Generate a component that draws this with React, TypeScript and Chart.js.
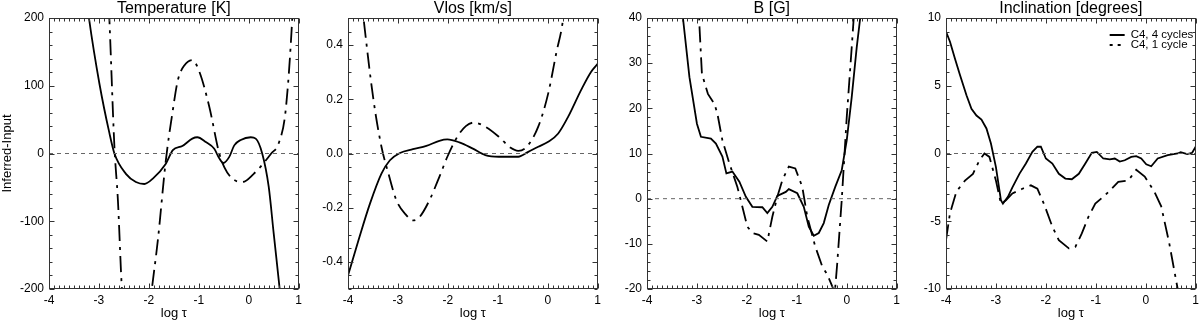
import React, { useEffect, useRef } from "react";
import { Chart, registerables } from "chart.js";

Chart.register(...registerables);

const FONT = "'Liberation Sans', Arial, Helvetica, sans-serif";

// ---- Text ----
const panelTitles = ["Temperature [K]", "Vlos [km/s]", "B [G]", "Inclination [degrees]"];
const yAxisLabel = "Inferred-Input";
const xAxisLabel = "log \u03C4";
const legendLabels = ["C4, 4 cycles", "C4, 1 cycle"];

// ---- Tick labels ----
const xTicks = [-4, -3, -2, -1, 0, 1];
const tempTicks = [-200, -100, 0, 100, 200];
const vlosTicks = [-0.4, -0.2, 0.0, 0.2, 0.4];
const bTicks = [-20, -10, 0, 10, 20, 30, 40];
const inclTicks = [-10, -5, 0, 5, 10];

// ---- Temperature [K] ----
const tempSolidX = [-3.35, -3.2, -2.99, -2.79, -2.69, -2.46, -2.26, -2.09, -1.92, -1.66, -1.52, -1.33, -1.13, -1.03, -0.86, -0.69, -0.59, -0.51, -0.39, -0.29, -0.16, 0.04, 0.14, 0.27, 0.4, 0.5, 0.62, 0.72];
const tempSolidY = [290, 200, 103, 30, 0, -30, -42, -45, -37, -15, 5, 11, 22, 24, 17, 7, -7, -14, -5, 12, 20, 24, 22, 0, -49, -118, -200, -270];
const tempDashX = [-2.83, -2.79, -2.69, -2.62, -2.54, -2.4, -2.25, -2.08, -1.94, -1.82, -1.66, -1.52, -1.42, -1.29, -1.13, -0.99, -0.79, -0.59, -0.49, -0.33, -0.12, 0.1, 0.3, 0.45, 0.6, 0.74, 0.87, 0.92];
const tempDashY = [260, 197, 10, -69, -200, -300, -330, -290, -200, -128, -10, 64, 108, 130, 138, 121, 69, 0, -20, -37, -42, -30, -14, 0, 15, 64, 197, 280];

// ---- Vlos [km/s] ----
const vlosSolidX = [-4, -3.79, -3.56, -3.33, -3.16, -2.96, -2.7, -2.43, -2.17, -2.01, -1.77, -1.51, -1.25, -0.98, -0.59, -0.39, -0.19, 0.01, 0.21, 0.41, 0.67, 0.87, 1.0];
const vlosSolidY = [-0.45, -0.32, -0.185, -0.074, -0.025, 0.002, 0.016, 0.028, 0.047, 0.052, 0.041, 0.019, -0.006, -0.012, -0.012, 0.006, 0.025, 0.043, 0.074, 0.136, 0.235, 0.302, 0.331];
const vlosDashX = [-3.75, -3.69, -3.49, -3.33, -3.19, -3.03, -2.83, -2.7, -2.57, -2.37, -2.17, -2.01, -1.81, -1.64, -1.48, -1.25, -0.98, -0.75, -0.59, -0.42, -0.19, 0.01, 0.17, 0.31, 0.36];
const vlosDashY = [0.6, 0.5, 0.198, 0.025, -0.074, -0.173, -0.228, -0.247, -0.235, -0.173, -0.086, -0.012, 0.062, 0.101, 0.114, 0.099, 0.062, 0.022, 0.01, 0.025, 0.099, 0.222, 0.37, 0.5, 0.6];

// ---- B [G] ----
const bSolidX = [-3.33, -3.28, -3.15, -3.0, -2.92, -2.72, -2.62, -2.49, -2.41, -2.29, -2.15, -2.02, -1.89, -1.69, -1.59, -1.49, -1.39, -1.22, -1.16, -0.99, -0.86, -0.76, -0.66, -0.56, -0.46, -0.36, -0.23, -0.1, 0.0, 0.1, 0.2, 0.27, 0.33];
const bSolidY = [50, 40, 26.9, 16.6, 13.7, 13.3, 12.2, 9.3, 5.6, 6.0, 3.75, 0.4, -1.8, -1.9, -3.2, -1.8, 0.6, 1.5, 2.1, 1.2, -1.8, -6.2, -8.2, -7.6, -5.4, -1.4, 2.6, 6.3, 12.9, 22.5, 33.5, 40, 48];
const bDashX = [-2.97, -2.95, -2.9, -2.78, -2.65, -2.59, -2.49, -2.35, -2.19, -2.09, -1.99, -1.89, -1.76, -1.59, -1.49, -1.39, -1.29, -1.16, -1.03, -0.89, -0.79, -0.63, -0.49, -0.39, -0.29, -0.24, -0.19, -0.1, 0.0, 0.1, 0.14, 0.17];
const bDashY = [45, 38.3, 27.6, 23.2, 21.0, 18.8, 12.9, 7.8, 2.6, -1.8, -6.2, -7.6, -8.0, -9.5, -4.0, 0.4, 4.1, 7.1, 6.7, 2.6, -4.0, -10.6, -15, -16.8, -19.4, -21, -14.3, -0.3, 18, 33.5, 40, 48];

// ---- Inclination [degrees] ----
const inclSolidX = [-4, -3.92, -3.82, -3.72, -3.59, -3.49, -3.39, -3.29, -3.19, -3.1, -3.0, -2.9, -2.86, -2.76, -2.67, -2.53, -2.4, -2.27, -2.17, -2.1, -2.0, -1.87, -1.74, -1.61, -1.48, -1.34, -1.21, -1.08, -0.98, -0.85, -0.72, -0.62, -0.52, -0.42, -0.29, -0.19, -0.09, 0.01, 0.11, 0.24, 0.44, 0.64, 0.7, 0.83, 0.93, 1.0];
const inclSolidY = [9.0, 8.25, 7.0, 5.8, 4.3, 3.3, 2.8, 2.5, 1.85, 0.74, -1.0, -3.45, -3.7, -3.2, -2.5, -1.5, -0.74, 0.12, 0.5, 0.5, -0.37, -0.74, -1.5, -1.85, -1.9, -1.5, -0.74, 0.05, 0.12, -0.37, -0.44, -0.37, -0.6, -0.5, -0.25, -0.2, -0.37, -0.8, -0.94, -0.37, -0.12, 0.0, 0.1, -0.05, 0.05, 0.5];
const inclDashX = [-4, -3.92, -3.79, -3.62, -3.46, -3.33, -3.23, -3.13, -3.0, -2.9, -2.8, -2.67, -2.47, -2.3, -2.17, -2.04, -1.87, -1.74, -1.54, -1.41, -1.28, -1.15, -1.01, -0.82, -0.55, -0.35, -0.19, -0.02, 0.17, 0.31, 0.47, 0.64, 0.7];
const inclDashY = [-6.4, -4.4, -2.8, -2.0, -1.5, -0.5, 0.0, -0.25, -2.0, -3.7, -3.45, -2.95, -2.6, -2.35, -2.6, -3.7, -5.4, -6.4, -7.0, -6.9, -5.9, -4.7, -3.7, -3.1, -2.1, -2.0, -1.2, -1.7, -2.8, -3.9, -6.6, -10, -12];

// ---- Panel configuration (layout/style only) ----
const PLOT_W = 251;
const Y_AXIS_W = 49;
const CANVAS_W = 306;
const CANVAS_H = 322;
const PLOT_TOP = 18;
const X_AXIS_H = 33;

type PanelCfg = {
  title: string;
  yTicks: number[];
  yMin: number;
  yMax: number;
  yMinor: number;
  decimals: number;
  solidX: number[];
  solidY: number[];
  dashX: number[];
  dashY: number[];
  smooth: boolean;
  showYLabel: boolean;
  showLegend: boolean;
};

const panels: PanelCfg[] = [
  { title: panelTitles[0], yTicks: tempTicks, yMin: -200, yMax: 200, yMinor: 20, decimals: 0, solidX: tempSolidX, solidY: tempSolidY, dashX: tempDashX, dashY: tempDashY, smooth: true, showYLabel: true, showLegend: false },
  { title: panelTitles[1], yTicks: vlosTicks, yMin: -0.5, yMax: 0.5, yMinor: 0.05, decimals: 1, solidX: vlosSolidX, solidY: vlosSolidY, dashX: vlosDashX, dashY: vlosDashY, smooth: true, showYLabel: false, showLegend: false },
  { title: panelTitles[2], yTicks: bTicks, yMin: -20, yMax: 40, yMinor: 2, decimals: 0, solidX: bSolidX, solidY: bSolidY, dashX: bDashX, dashY: bDashY, smooth: false, showYLabel: false, showLegend: false },
  { title: panelTitles[3], yTicks: inclTicks, yMin: -10, yMax: 10, yMinor: 1, decimals: 0, solidX: inclSolidX, solidY: inclSolidY, dashX: inclDashX, dashY: inclDashY, smooth: false, showYLabel: false, showLegend: true },
];

const DASH_DOT = [16, 6, 3, 6];

function toPoints(xs: number[], ys: number[]) {
  return xs.map((x, i) => ({ x, y: ys[i] }));
}

function makeDecorPlugin(cfg: PanelCfg, idx: number) {
  return {
    id: "decor" + idx,
    afterDatasetsDraw(chart: any) {
      const { ctx, chartArea: a, scales } = chart;
      const xs = scales.x;
      const ys = scales.y;
      ctx.save();
      ctx.strokeStyle = "#333";
      ctx.lineWidth = 1;
      ctx.setLineDash([]);
      ctx.strokeRect(Math.round(a.left) + 0.5, Math.round(a.top) + 0.5, Math.round(a.right - a.left) - 1, Math.round(a.bottom - a.top) - 1);

      const majorLen = 5;
      const minorLen = 3;
      const L = Math.round(a.left) + 0.5;
      const R = Math.round(a.right) - 0.5;
      const T = Math.round(a.top) + 0.5;
      const B = Math.round(a.bottom) - 0.5;
      ctx.beginPath();
      for (let k = -40; k <= 10; k++) {
        const v = k / 10;
        const len = k % 10 === 0 ? majorLen : minorLen;
        const px = Math.round(xs.getPixelForValue(v)) + 0.5;
        ctx.moveTo(px, B);
        ctx.lineTo(px, B - len);
        ctx.moveTo(px, T);
        ctx.lineTo(px, T + len);
      }
      const n = Math.round((cfg.yMax - cfg.yMin) / cfg.yMinor);
      for (let k = 0; k <= n; k++) {
        const v = cfg.yMin + k * cfg.yMinor;
        const isMajor = cfg.yTicks.some((t) => Math.abs(t - v) < cfg.yMinor / 10);
        const len = isMajor ? majorLen : minorLen;
        const py = Math.round(ys.getPixelForValue(v)) + 0.5;
        ctx.moveTo(L, py);
        ctx.lineTo(L + len, py);
        ctx.moveTo(R, py);
        ctx.lineTo(R - len, py);
      }
      ctx.stroke();

      ctx.fillStyle = "#000";
      ctx.font = "16px " + FONT;
      ctx.textAlign = "center";
      ctx.textBaseline = "alphabetic";
      ctx.fillText(cfg.title, (a.left + a.right) / 2, 13);

      if (cfg.showLegend) {
        const lx = a.right - 86;
        const y1 = 35;
        const y2 = 45;
        ctx.strokeStyle = "#000";
        ctx.lineWidth = 2;
        ctx.beginPath();
        ctx.moveTo(lx, y1);
        ctx.lineTo(lx + 15, y1);
        ctx.stroke();
        ctx.setLineDash([3, 5]);
        ctx.beginPath();
        ctx.moveTo(lx, y2);
        ctx.lineTo(lx + 15, y2);
        ctx.stroke();
        ctx.setLineDash([]);
        ctx.font = "11.5px " + FONT;
        ctx.textAlign = "left";
        ctx.textBaseline = "middle";
        ctx.fillText(legendLabels[0], lx + 21, y1);
        ctx.fillText(legendLabels[1], lx + 21, y2);
      }
      ctx.restore();
    },
  };
}

function Panel({ cfg, idx }: { cfg: PanelCfg; idx: number }) {
  const ref = useRef<HTMLCanvasElement>(null);
  useEffect(() => {
    if (!ref.current) return;
    const lineBase = cfg.smooth
      ? { cubicInterpolationMode: "monotone" as const }
      : { tension: 0 };
    const chart = new Chart(ref.current, {
      type: "line",
      data: {
        datasets: [
          {
            data: [{ x: -4, y: 0 }, { x: 1, y: 0 }],
            borderColor: "#666",
            borderWidth: 1,
            borderDash: [4, 4],
            pointRadius: 0,
            tension: 0,
          },
          {
            data: toPoints(cfg.dashX, cfg.dashY),
            borderColor: "#000",
            borderWidth: 1.8,
            borderDash: DASH_DOT,
            pointRadius: 0,
            ...lineBase,
          },
          {
            data: toPoints(cfg.solidX, cfg.solidY),
            borderColor: "#000",
            borderWidth: 1.8,
            pointRadius: 0,
            ...lineBase,
          },
        ],
      },
      options: {
        animation: false,
        responsive: false,
        maintainAspectRatio: false,
        devicePixelRatio: 1,
        layout: { padding: { top: PLOT_TOP, right: CANVAS_W - Y_AXIS_W - PLOT_W, left: 0, bottom: 0 } },
        plugins: { legend: { display: false }, tooltip: { enabled: false }, title: { display: false } },
        events: [],
        scales: {
          x: {
            type: "linear",
            position: "bottom",
            min: -4,
            max: 1,
            grid: { display: false, drawTicks: false },
            border: { display: false },
            afterBuildTicks: (scale: any) => {
              scale.ticks = xTicks.map((v) => ({ value: v }));
            },
            afterFit: (scale: any) => {
              scale.height = X_AXIS_H;
            },
            ticks: {
              autoSkip: false,
              maxRotation: 0,
              padding: 4,
              color: "#000",
              font: { family: FONT, size: 12 },
              callback: (v: any) => String(v),
            },
            title: {
              display: true,
              text: xAxisLabel,
              color: "#000",
              font: { family: FONT, size: 13 },
              padding: { top: 0, bottom: 1 },
            },
          },
          y: {
            type: "linear",
            position: "left",
            min: cfg.yMin,
            max: cfg.yMax,
            grid: { display: false, drawTicks: false },
            border: { display: false },
            afterBuildTicks: (scale: any) => {
              scale.ticks = cfg.yTicks.map((v) => ({ value: v }));
            },
            afterFit: (scale: any) => {
              scale.width = Y_AXIS_W;
            },
            ticks: {
              autoSkip: false,
              padding: 5,
              color: "#000",
              font: { family: FONT, size: 12 },
              callback: (v: any) => Number(v).toFixed(cfg.decimals),
            },
            title: {
              display: cfg.showYLabel,
              text: yAxisLabel,
              color: "#000",
              font: { family: FONT, size: 13 },
              padding: { top: 0, bottom: 0 },
            },
          },
        },
      },
      plugins: [makeDecorPlugin(cfg, idx)],
    } as any);
    return () => chart.destroy();
  }, [cfg, idx]);

  const left = 49 + 299 * idx - Y_AXIS_W;
  return (
    <canvas
      ref={ref}
      width={CANVAS_W}
      height={CANVAS_H}
      style={{ position: "absolute", left, top: 0, width: CANVAS_W, height: CANVAS_H }}
    />
  );
}

export default function App() {
  return (
    <div
      style={{
        position: "fixed",
        left: 0,
        top: 0,
        width: 1200,
        height: 322,
        overflow: "hidden",
        background: "#fff",
      }}
    >
      {panels.map((p, i) => (
        <Panel key={i} cfg={p} idx={i} />
      ))}
    </div>
  );
}
